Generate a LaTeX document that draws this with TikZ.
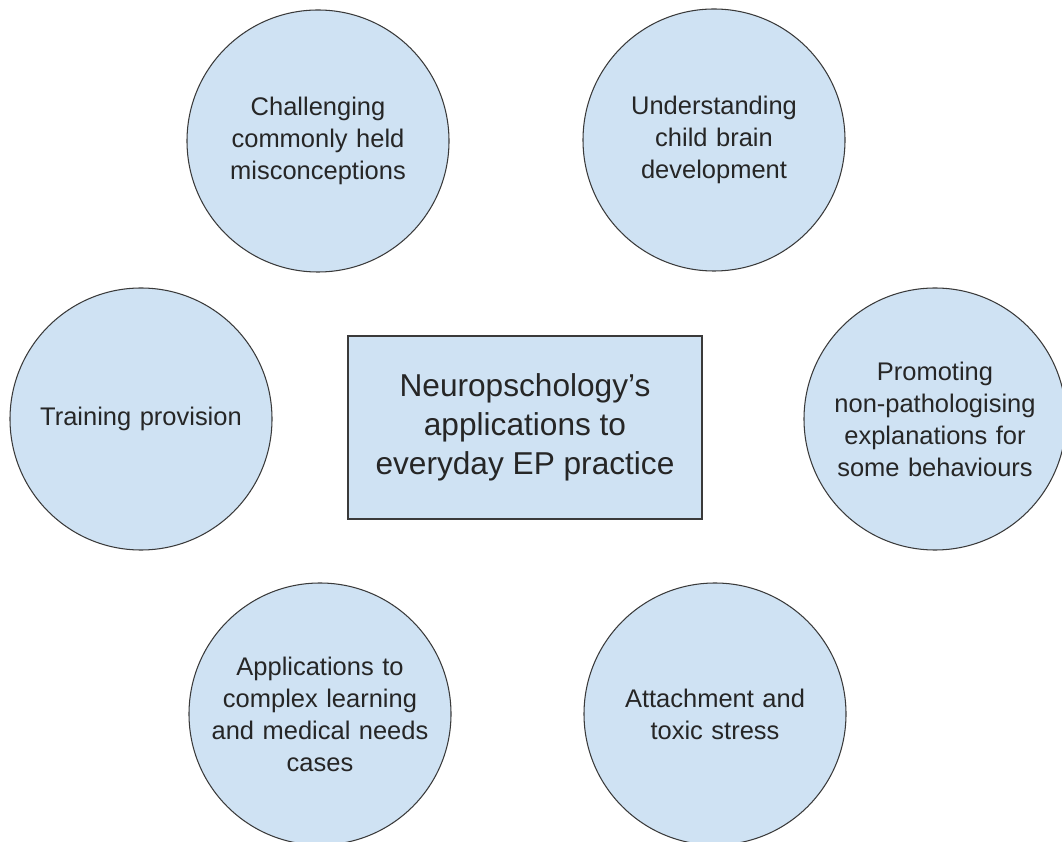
\documentclass[tikz,border=0pt]{standalone}
\usepackage{fontspec}
\setmainfont{Liberation Sans}
\definecolor{lightblue}{HTML}{CFE2F3}
\definecolor{edgegray}{HTML}{3A3A3A}

\begin{document}
\begin{tikzpicture}[
        topic/.style={circle, draw=edgegray, fill=lightblue, line width=0.6pt,
            minimum size=5.24cm, inner sep=0pt, align=center, text width=4.6cm,
            font=\fontsize{14.5}{18.2}\selectfont, text=black!85},
        hub/.style={rectangle, draw=edgegray, fill=lightblue, line width=0.6pt,
            minimum width=7.08cm, minimum height=3.66cm, align=center,
            font=\fontsize{18}{22.2}\selectfont, text=black!85}
    ]
            \useasboundingbox (0,0) rectangle (21.24,16.82);

            \node[hub] (centre) at (10.5, 8.27){Neuropschology's\\applications to\\everyday EP practice};

            \node[topic] (myths) at (6.36, 14.0){Challenging\\commonly held\\misconceptions};
            \node[topic] (brain) at (14.28, 14.02){Understanding\\child brain\\development};
            \node[topic] (training) at (2.82, 8.44){Training provision};
            \node[topic] (behaviour) at (18.7, 8.44){Promoting\\non-pathologising\\explanations for\\some behaviours};
            \node[topic] (cases) at (6.4, 2.54){Applications to\\complex learning\\and medical needs\\cases};
            \node[topic] (stress) at (14.3, 2.54){Attachment and\\toxic stress};

      \end{tikzpicture}
\end{document}
